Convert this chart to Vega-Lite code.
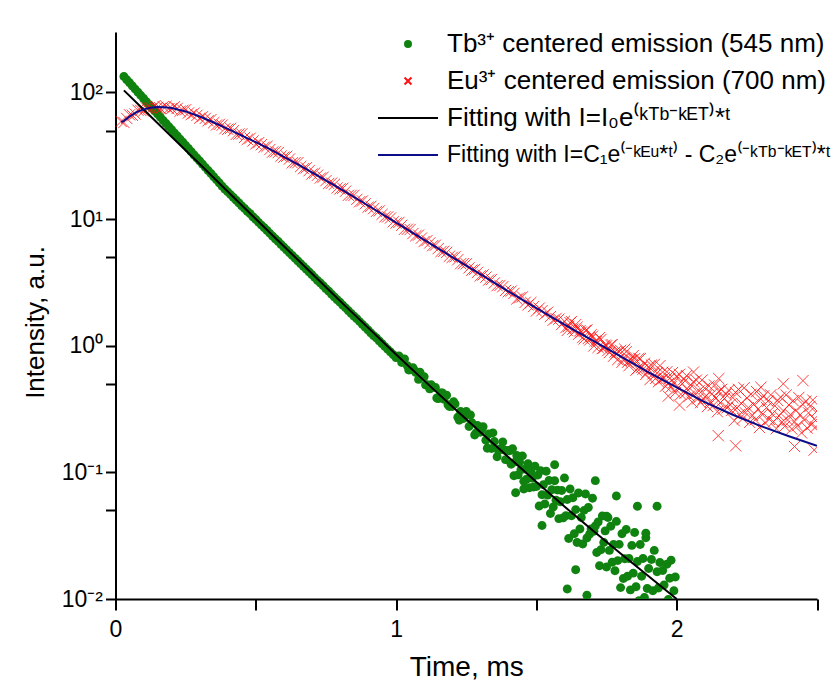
{
"$schema": "https://vega.github.io/schema/vega-lite/v6.json",
"width": 701.5, "height": 567,
"autosize": {"type": "none"},
"padding": {"left": 115.5, "top": 32, "right": 17, "bottom": 87},
"background": "white",
"config": {"font": "Liberation Sans", "view": {"stroke": null}},
"data": {"values": [
{"t":0.03,"v":133.4,"s":"Tb"},{"t":0.04,"v":125.9,"s":"Tb"},{"t":0.05,"v":119.1,"s":"Tb"},{"t":0.06,"v":112.5,"s":"Tb"},{"t":0.07,"v":106.2,"s":"Tb"},{"t":0.08,"v":100.2,"s":"Tb"},{"t":0.09,"v":94.8,"s":"Tb"},{"t":0.10,"v":89.5,"s":"Tb"},{"t":0.11,"v":84.5,"s":"Tb"},{"t":0.12,"v":80.0,"s":"Tb"},{"t":0.13,"v":75.5,"s":"Tb"},{"t":0.14,"v":71.3,"s":"Tb"},{"t":0.15,"v":67.5,"s":"Tb"},{"t":0.16,"v":63.7,"s":"Tb"},{"t":0.17,"v":60.1,"s":"Tb"},{"t":0.18,"v":56.8,"s":"Tb"},{"t":0.19,"v":53.7,"s":"Tb"},{"t":0.20,"v":50.7,"s":"Tb"},{"t":0.21,"v":47.9,"s":"Tb"},{"t":0.22,"v":45.3,"s":"Tb"},{"t":0.23,"v":42.8,"s":"Tb"},{"t":0.24,"v":40.4,"s":"Tb"},{"t":0.25,"v":38.2,"s":"Tb"},{"t":0.26,"v":36.1,"s":"Tb"},{"t":0.27,"v":34.0,"s":"Tb"},{"t":0.28,"v":32.1,"s":"Tb"},{"t":0.29,"v":30.4,"s":"Tb"},{"t":0.30,"v":28.7,"s":"Tb"},{"t":0.31,"v":27.1,"s":"Tb"},{"t":0.32,"v":25.6,"s":"Tb"},{"t":0.33,"v":24.2,"s":"Tb"},{"t":0.34,"v":22.9,"s":"Tb"},{"t":0.35,"v":21.6,"s":"Tb"},{"t":0.36,"v":20.4,"s":"Tb"},{"t":0.37,"v":19.3,"s":"Tb"},{"t":0.38,"v":18.2,"s":"Tb"},{"t":0.39,"v":17.2,"s":"Tb"},{"t":0.40,"v":16.4,"s":"Tb"},{"t":0.41,"v":15.6,"s":"Tb"},{"t":0.42,"v":14.8,"s":"Tb"},{"t":0.43,"v":14.1,"s":"Tb"},{"t":0.44,"v":13.4,"s":"Tb"},{"t":0.45,"v":12.7,"s":"Tb"},{"t":0.46,"v":12.1,"s":"Tb"},{"t":0.47,"v":11.5,"s":"Tb"},{"t":0.48,"v":11.0,"s":"Tb"},{"t":0.49,"v":10.4,"s":"Tb"},{"t":0.50,"v":9.91,"s":"Tb"},{"t":0.51,"v":9.42,"s":"Tb"},{"t":0.52,"v":8.96,"s":"Tb"},{"t":0.53,"v":8.53,"s":"Tb"},{"t":0.54,"v":8.11,"s":"Tb"},{"t":0.55,"v":7.71,"s":"Tb"},{"t":0.56,"v":7.33,"s":"Tb"},{"t":0.57,"v":6.97,"s":"Tb"},{"t":0.58,"v":6.64,"s":"Tb"},{"t":0.59,"v":6.31,"s":"Tb"},{"t":0.60,"v":6.00,"s":"Tb"},{"t":0.61,"v":5.70,"s":"Tb"},{"t":0.62,"v":5.42,"s":"Tb"},{"t":0.63,"v":5.16,"s":"Tb"},{"t":0.64,"v":4.91,"s":"Tb"},{"t":0.65,"v":4.67,"s":"Tb"},{"t":0.66,"v":4.44,"s":"Tb"},{"t":0.67,"v":4.22,"s":"Tb"},{"t":0.68,"v":4.02,"s":"Tb"},{"t":0.69,"v":3.82,"s":"Tb"},{"t":0.70,"v":3.63,"s":"Tb"},{"t":0.71,"v":3.45,"s":"Tb"},{"t":0.72,"v":3.28,"s":"Tb"},{"t":0.73,"v":3.13,"s":"Tb"},{"t":0.74,"v":2.97,"s":"Tb"},{"t":0.75,"v":2.82,"s":"Tb"},{"t":0.76,"v":2.69,"s":"Tb"},{"t":0.77,"v":2.55,"s":"Tb"},{"t":0.78,"v":2.43,"s":"Tb"},{"t":0.79,"v":2.31,"s":"Tb"},{"t":0.80,"v":2.20,"s":"Tb"},{"t":0.81,"v":2.09,"s":"Tb"},{"t":0.82,"v":1.99,"s":"Tb"},{"t":0.83,"v":1.89,"s":"Tb"},{"t":0.84,"v":1.80,"s":"Tb"},{"t":0.85,"v":1.71,"s":"Tb"},{"t":0.86,"v":1.63,"s":"Tb"},{"t":0.87,"v":1.55,"s":"Tb"},{"t":0.88,"v":1.47,"s":"Tb"},{"t":0.89,"v":1.40,"s":"Tb"},{"t":0.90,"v":1.33,"s":"Tb"},{"t":0.91,"v":1.26,"s":"Tb"},{"t":0.92,"v":1.20,"s":"Tb"},{"t":0.93,"v":1.15,"s":"Tb"},{"t":0.94,"v":1.09,"s":"Tb"},{"t":0.95,"v":1.035,"s":"Tb"},{"t":0.96,"v":0.984,"s":"Tb"},{"t":0.97,"v":0.936,"s":"Tb"},{"t":0.98,"v":0.891,"s":"Tb"},{"t":0.99,"v":0.847,"s":"Tb"},{"t":1.00,"v":0.805,"s":"Tb"},
{"t":1.005,"v":0.809,"s":"Tb"},{"t":1.01,"v":0.828,"s":"Tb"},{"t":1.02,"v":0.738,"s":"Tb"},{"t":1.025,"v":0.783,"s":"Tb"},{"t":1.03,"v":0.785,"s":"Tb"},{"t":1.04,"v":0.695,"s":"Tb"},{"t":1.045,"v":0.644,"s":"Tb"},{"t":1.05,"v":0.645,"s":"Tb"},{"t":1.06,"v":0.671,"s":"Tb"},{"t":1.065,"v":0.640,"s":"Tb"},{"t":1.07,"v":0.615,"s":"Tb"},{"t":1.08,"v":0.542,"s":"Tb"},{"t":1.085,"v":0.618,"s":"Tb"},{"t":1.09,"v":0.574,"s":"Tb"},{"t":1.10,"v":0.570,"s":"Tb"},{"t":1.105,"v":0.490,"s":"Tb"},{"t":1.11,"v":0.492,"s":"Tb"},{"t":1.12,"v":0.456,"s":"Tb"},{"t":1.125,"v":0.491,"s":"Tb"},{"t":1.13,"v":0.469,"s":"Tb"},{"t":1.14,"v":0.468,"s":"Tb"},{"t":1.145,"v":0.386,"s":"Tb"},{"t":1.15,"v":0.382,"s":"Tb"},{"t":1.16,"v":0.424,"s":"Tb"},{"t":1.165,"v":0.423,"s":"Tb"},{"t":1.17,"v":0.377,"s":"Tb"},{"t":1.18,"v":0.406,"s":"Tb"},{"t":1.185,"v":0.342,"s":"Tb"},{"t":1.19,"v":0.331,"s":"Tb"},{"t":1.20,"v":0.331,"s":"Tb"},{"t":1.205,"v":0.361,"s":"Tb"},{"t":1.21,"v":0.346,"s":"Tb"},{"t":1.22,"v":0.272,"s":"Tb"},{"t":1.225,"v":0.258,"s":"Tb"},{"t":1.23,"v":0.303,"s":"Tb"},{"t":1.24,"v":0.266,"s":"Tb"},{"t":1.245,"v":0.278,"s":"Tb"},{"t":1.25,"v":0.302,"s":"Tb"},{"t":1.26,"v":0.230,"s":"Tb"},{"t":1.265,"v":0.284,"s":"Tb"},{"t":1.27,"v":0.246,"s":"Tb"},{"t":1.28,"v":0.197,"s":"Tb"},{"t":1.285,"v":0.205,"s":"Tb"},{"t":1.29,"v":0.235,"s":"Tb"},{"t":1.30,"v":0.207,"s":"Tb"},{"t":1.305,"v":0.220,"s":"Tb"},{"t":1.31,"v":0.229,"s":"Tb"},{"t":1.32,"v":0.179,"s":"Tb"},{"t":1.325,"v":0.155,"s":"Tb"},{"t":1.33,"v":0.201,"s":"Tb"},{"t":1.34,"v":0.154,"s":"Tb"},{"t":1.345,"v":0.205,"s":"Tb"},{"t":1.35,"v":0.175,"s":"Tb"},{"t":1.36,"v":0.133,"s":"Tb"},{"t":1.365,"v":0.149,"s":"Tb"},{"t":1.37,"v":0.153,"s":"Tb"},{"t":1.38,"v":0.174,"s":"Tb"},{"t":1.385,"v":0.150,"s":"Tb"},{"t":1.39,"v":0.126,"s":"Tb"},{"t":1.40,"v":0.149,"s":"Tb"},
{"t":1.405,"v":0.148,"s":"Tb"},{"t":1.41,"v":0.116,"s":"Tb"},{"t":1.415,"v":0.154,"s":"Tb"},{"t":1.42,"v":0.094,"s":"Tb"},{"t":1.425,"v":0.121,"s":"Tb"},{"t":1.43,"v":0.136,"s":"Tb"},{"t":1.435,"v":0.0955,"s":"Tb"},{"t":1.44,"v":0.120,"s":"Tb"},{"t":1.445,"v":0.105,"s":"Tb"},{"t":1.45,"v":0.135,"s":"Tb"},{"t":1.455,"v":0.0849,"s":"Tb"},{"t":1.46,"v":0.106,"s":"Tb"},{"t":1.465,"v":0.0881,"s":"Tb"},{"t":1.47,"v":0.117,"s":"Tb"},{"t":1.475,"v":0.0755,"s":"Tb"},{"t":1.48,"v":0.103,"s":"Tb"},{"t":1.485,"v":0.090,"s":"Tb"},{"t":1.49,"v":0.0766,"s":"Tb"},{"t":1.495,"v":0.112,"s":"Tb"},{"t":1.50,"v":0.0774,"s":"Tb"},{"t":1.505,"v":0.0951,"s":"Tb"},{"t":1.51,"v":0.0543,"s":"Tb"},{"t":1.515,"v":0.103,"s":"Tb"},{"t":1.52,"v":0.0665,"s":"Tb"},{"t":1.525,"v":0.080,"s":"Tb"},{"t":1.53,"v":0.0562,"s":"Tb"},{"t":1.535,"v":0.102,"s":"Tb"},{"t":1.54,"v":0.0661,"s":"Tb"},{"t":1.545,"v":0.0863,"s":"Tb"},{"t":1.55,"v":0.0473,"s":"Tb"},{"t":1.555,"v":0.0729,"s":"Tb"},{"t":1.56,"v":0.0533,"s":"Tb"},{"t":1.565,"v":0.0857,"s":"Tb"},{"t":1.57,"v":0.0602,"s":"Tb"},{"t":1.575,"v":0.0724,"s":"Tb"},{"t":1.58,"v":0.0431,"s":"Tb"},{"t":1.585,"v":0.0586,"s":"Tb"},{"t":1.59,"v":0.072,"s":"Tb"},{"t":1.595,"v":0.0437,"s":"Tb"},{"t":1.60,"v":0.0902,"s":"Tb"},{"t":1.605,"v":0.0455,"s":"Tb"},{"t":1.61,"v":0.0611,"s":"Tb"},{"t":1.615,"v":0.030,"s":"Tb"},{"t":1.62,"v":0.0738,"s":"Tb"},{"t":1.625,"v":0.0455,"s":"Tb"},{"t":1.63,"v":0.063,"s":"Tb"},{"t":1.635,"v":0.0327,"s":"Tb"},{"t":1.64,"v":0.0508,"s":"Tb"},{"t":1.645,"v":0.0279,"s":"Tb"},{"t":1.65,"v":0.0687,"s":"Tb"},{"t":1.655,"v":0.0357,"s":"Tb"},{"t":1.66,"v":0.044,"s":"Tb"},{"t":1.665,"v":0.0272,"s":"Tb"},{"t":1.67,"v":0.0501,"s":"Tb"},{"t":1.675,"v":0.0674,"s":"Tb"},{"t":1.68,"v":0.0303,"s":"Tb"},{"t":1.685,"v":0.0528,"s":"Tb"},{"t":1.69,"v":0.0326,"s":"Tb"},{"t":1.695,"v":0.0358,"s":"Tb"},{"t":1.70,"v":0.0624,"s":"Tb"},{"t":1.705,"v":0.0343,"s":"Tb"},{"t":1.71,"v":0.0377,"s":"Tb"},{"t":1.715,"v":0.0233,"s":"Tb"},{"t":1.72,"v":0.0406,"s":"Tb"},{"t":1.725,"v":0.0183,"s":"Tb"},{"t":1.73,"v":0.0245,"s":"Tb"},{"t":1.735,"v":0.0452,"s":"Tb"},{"t":1.74,"v":0.0279,"s":"Tb"},{"t":1.745,"v":0.0345,"s":"Tb"},{"t":1.75,"v":0.0179,"s":"Tb"},{"t":1.755,"v":0.044,"s":"Tb"},{"t":1.76,"v":0.0242,"s":"Tb"},{"t":1.765,"v":0.0376,"s":"Tb"},{"t":1.77,"v":0.0195,"s":"Tb"},{"t":1.775,"v":0.027,"s":"Tb"},{"t":1.78,"v":0.0167,"s":"Tb"},{"t":1.785,"v":0.041,"s":"Tb"},{"t":1.79,"v":0.0201,"s":"Tb"},{"t":1.795,"v":0.027,"s":"Tb"},{"t":1.80,"v":0.0123,"s":"Tb"},{"t":1.805,"v":0.0328,"s":"Tb"},{"t":1.81,"v":0.0145,"s":"Tb"},{"t":1.815,"v":0.0208,"s":"Tb"},{"t":1.82,"v":0.0354,"s":"Tb"},{"t":1.825,"v":0.0151,"s":"Tb"},{"t":1.83,"v":0.0209,"s":"Tb"},{"t":1.835,"v":0.0118,"s":"Tb"},{"t":1.84,"v":0.0265,"s":"Tb"},{"t":1.845,"v":0.016,"s":"Tb"},{"t":1.85,"v":0.0335,"s":"Tb"},{"t":1.855,"v":0.0125,"s":"Tb"},{"t":1.86,"v":0.0198,"s":"Tb"},{"t":1.865,"v":0.0097,"s":"Tb"},{"t":1.87,"v":0.0269,"s":"Tb"},{"t":1.875,"v":0.0151,"s":"Tb"},{"t":1.88,"v":0.0209,"s":"Tb"},{"t":1.885,"v":0.0103,"s":"Tb"},{"t":1.89,"v":0.0304,"s":"Tb"},{"t":1.895,"v":0.0121,"s":"Tb"},{"t":1.90,"v":0.0174,"s":"Tb"},{"t":1.905,"v":0.0077,"s":"Tb"},{"t":1.91,"v":0.0205,"s":"Tb"},{"t":1.915,"v":0.0116,"s":"Tb"},{"t":1.92,"v":0.0242,"s":"Tb"},{"t":1.925,"v":0.0084,"s":"Tb"},{"t":1.93,"v":0.0164,"s":"Tb"},{"t":1.935,"v":0.0122,"s":"Tb"},{"t":1.94,"v":0.0194,"s":"Tb"},{"t":1.945,"v":0.0089,"s":"Tb"},{"t":1.95,"v":0.0168,"s":"Tb"},{"t":1.955,"v":0.0129,"s":"Tb"},{"t":1.96,"v":0.0068,"s":"Tb"},{"t":1.965,"v":0.0188,"s":"Tb"},{"t":1.97,"v":0.0099,"s":"Tb"},{"t":1.975,"v":0.0146,"s":"Tb"},{"t":1.98,"v":0.0202,"s":"Tb"},{"t":1.985,"v":0.007,"s":"Tb"},{"t":1.99,"v":0.0116,"s":"Tb"},{"t":1.995,"v":0.0149,"s":"Tb"},{"t":2.00,"v":0.0076,"s":"Tb"},
{"t":1.426,"v":0.069,"s":"Tb"},{"t":1.455,"v":0.074,"s":"Tb"},{"t":1.565,"v":0.115,"s":"Tb"},{"t":1.71,"v":0.086,"s":"Tb"},{"t":1.785,"v":0.065,"s":"Tb"},{"t":1.86,"v":0.054,"s":"Tb"},{"t":1.93,"v":0.054,"s":"Tb"},{"t":1.89,"v":0.033,"s":"Tb"},{"t":1.61,"v":0.012,"s":"Tb"},{"t":1.68,"v":0.0107,"s":"Tb"},{"t":1.64,"v":0.017,"s":"Tb"},{"t":1.52,"v":0.038,"s":"Tb"},{"t":1.75,"v":0.045,"s":"Tb"},
{"t":0.02,"v":59.0,"s":"Eu"},{"t":0.03,"v":57.9,"s":"Eu"},{"t":0.04,"v":62.3,"s":"Eu"},{"t":0.05,"v":66.6,"s":"Eu"},{"t":0.06,"v":66.0,"s":"Eu"},{"t":0.07,"v":67.5,"s":"Eu"},{"t":0.08,"v":72.4,"s":"Eu"},{"t":0.09,"v":72.1,"s":"Eu"},{"t":0.10,"v":71.2,"s":"Eu"},{"t":0.11,"v":75.6,"s":"Eu"},{"t":0.12,"v":75.7,"s":"Eu"},{"t":0.13,"v":74.8,"s":"Eu"},{"t":0.14,"v":78.3,"s":"Eu"},{"t":0.15,"v":76.3,"s":"Eu"},{"t":0.16,"v":74.7,"s":"Eu"},{"t":0.17,"v":77.2,"s":"Eu"},{"t":0.18,"v":77.6,"s":"Eu"},{"t":0.19,"v":74.4,"s":"Eu"},{"t":0.20,"v":74.6,"s":"Eu"},{"t":0.21,"v":77.1,"s":"Eu"},{"t":0.22,"v":74.8,"s":"Eu"},{"t":0.23,"v":71.0,"s":"Eu"},{"t":0.24,"v":72.2,"s":"Eu"},{"t":0.25,"v":73.0,"s":"Eu"},{"t":0.26,"v":68.8,"s":"Eu"},{"t":0.27,"v":66.8,"s":"Eu"},{"t":0.28,"v":68.6,"s":"Eu"},{"t":0.29,"v":65.8,"s":"Eu"},{"t":0.30,"v":62.6,"s":"Eu"},{"t":0.31,"v":64.3,"s":"Eu"},{"t":0.32,"v":62.4,"s":"Eu"},{"t":0.33,"v":59.7,"s":"Eu"},{"t":0.34,"v":61.0,"s":"Eu"},{"t":0.35,"v":57.7,"s":"Eu"},{"t":0.36,"v":55.3,"s":"Eu"},{"t":0.37,"v":55.9,"s":"Eu"},{"t":0.38,"v":55.2,"s":"Eu"},{"t":0.39,"v":51.8,"s":"Eu"},{"t":0.40,"v":51.2,"s":"Eu"},{"t":0.41,"v":52.0,"s":"Eu"},{"t":0.42,"v":49.8,"s":"Eu"},{"t":0.43,"v":46.6,"s":"Eu"},{"t":0.44,"v":46.9,"s":"Eu"},{"t":0.45,"v":47.0,"s":"Eu"},{"t":0.46,"v":44.1,"s":"Eu"},{"t":0.47,"v":42.6,"s":"Eu"},{"t":0.48,"v":43.5,"s":"Eu"},{"t":0.49,"v":41.4,"s":"Eu"},{"t":0.50,"v":39.2,"s":"Eu"},{"t":0.51,"v":40.1,"s":"Eu"},{"t":0.52,"v":38.7,"s":"Eu"},{"t":0.53,"v":37.0,"s":"Eu"},{"t":0.54,"v":37.5,"s":"Eu"},{"t":0.55,"v":35.4,"s":"Eu"},{"t":0.56,"v":33.8,"s":"Eu"},{"t":0.57,"v":34.0,"s":"Eu"},{"t":0.58,"v":33.5,"s":"Eu"},{"t":0.59,"v":31.4,"s":"Eu"},{"t":0.60,"v":30.8,"s":"Eu"},{"t":0.61,"v":31.3,"s":"Eu"},{"t":0.62,"v":29.8,"s":"Eu"},{"t":0.63,"v":27.8,"s":"Eu"},{"t":0.64,"v":27.9,"s":"Eu"},{"t":0.65,"v":27.9,"s":"Eu"},{"t":0.66,"v":26.0,"s":"Eu"},{"t":0.67,"v":25.0,"s":"Eu"},{"t":0.68,"v":25.4,"s":"Eu"},{"t":0.69,"v":24.1,"s":"Eu"},{"t":0.70,"v":22.7,"s":"Eu"},{"t":0.71,"v":23.1,"s":"Eu"},{"t":0.72,"v":22.2,"s":"Eu"},{"t":0.73,"v":21.1,"s":"Eu"},{"t":0.74,"v":21.4,"s":"Eu"},{"t":0.75,"v":20.1,"s":"Eu"},{"t":0.76,"v":19.1,"s":"Eu"},{"t":0.77,"v":19.2,"s":"Eu"},{"t":0.78,"v":18.8,"s":"Eu"},{"t":0.79,"v":17.6,"s":"Eu"},{"t":0.80,"v":17.3,"s":"Eu"},{"t":0.81,"v":17.5,"s":"Eu"},{"t":0.82,"v":16.6,"s":"Eu"},{"t":0.83,"v":15.4,"s":"Eu"},{"t":0.84,"v":15.4,"s":"Eu"},{"t":0.85,"v":15.4,"s":"Eu"},{"t":0.86,"v":14.3,"s":"Eu"},{"t":0.87,"v":13.7,"s":"Eu"},{"t":0.88,"v":13.9,"s":"Eu"},{"t":0.89,"v":13.2,"s":"Eu"},{"t":0.90,"v":12.4,"s":"Eu"},{"t":0.91,"v":12.6,"s":"Eu"},{"t":0.92,"v":12.1,"s":"Eu"},{"t":0.93,"v":11.5,"s":"Eu"},{"t":0.94,"v":11.6,"s":"Eu"},{"t":0.95,"v":10.9,"s":"Eu"},{"t":0.96,"v":10.4,"s":"Eu"},{"t":0.97,"v":10.4,"s":"Eu"},{"t":0.98,"v":10.2,"s":"Eu"},{"t":0.99,"v":9.51,"s":"Eu"},{"t":1.00,"v":9.31,"s":"Eu"},{"t":1.01,"v":9.41,"s":"Eu"},{"t":1.02,"v":8.93,"s":"Eu"},{"t":1.03,"v":8.30,"s":"Eu"},{"t":1.04,"v":8.30,"s":"Eu"},{"t":1.05,"v":8.27,"s":"Eu"},{"t":1.06,"v":7.69,"s":"Eu"},{"t":1.07,"v":7.38,"s":"Eu"},{"t":1.08,"v":7.48,"s":"Eu"},{"t":1.09,"v":7.07,"s":"Eu"},{"t":1.10,"v":6.65,"s":"Eu"},{"t":1.11,"v":6.76,"s":"Eu"},{"t":1.12,"v":6.48,"s":"Eu"},{"t":1.13,"v":6.16,"s":"Eu"},{"t":1.14,"v":6.22,"s":"Eu"},{"t":1.15,"v":5.84,"s":"Eu"},{"t":1.16,"v":5.54,"s":"Eu"},{"t":1.17,"v":5.56,"s":"Eu"},{"t":1.18,"v":5.45,"s":"Eu"},{"t":1.19,"v":5.08,"s":"Eu"},{"t":1.20,"v":4.98,"s":"Eu"},{"t":1.21,"v":5.03,"s":"Eu"},{"t":1.22,"v":4.78,"s":"Eu"},{"t":1.23,"v":4.44,"s":"Eu"},{"t":1.24,"v":4.44,"s":"Eu"},{"t":1.25,"v":4.43,"s":"Eu"},{"t":1.26,"v":4.12,"s":"Eu"},{"t":1.27,"v":3.95,"s":"Eu"},{"t":1.28,"v":4.00,"s":"Eu"},{"t":1.29,"v":3.79,"s":"Eu"},{"t":1.30,"v":3.56,"s":"Eu"},{"t":1.31,"v":3.62,"s":"Eu"},{"t":1.32,"v":3.48,"s":"Eu"},{"t":1.33,"v":3.30,"s":"Eu"},{"t":1.34,"v":3.33,"s":"Eu"},{"t":1.35,"v":3.13,"s":"Eu"},{"t":1.36,"v":2.98,"s":"Eu"},{"t":1.37,"v":2.99,"s":"Eu"},{"t":1.38,"v":2.92,"s":"Eu"},{"t":1.39,"v":2.73,"s":"Eu"},{"t":1.40,"v":2.67,"s":"Eu"},{"t":1.41,"v":2.70,"s":"Eu"},{"t":1.42,"v":2.59,"s":"Eu"},{"t":1.43,"v":2.34,"s":"Eu"},{"t":1.44,"v":2.39,"s":"Eu"},{"t":1.45,"v":2.43,"s":"Eu"},{"t":1.46,"v":2.20,"s":"Eu"},{"t":1.47,"v":2.10,"s":"Eu"},{"t":1.48,"v":2.19,"s":"Eu"},{"t":1.49,"v":2.04,"s":"Eu"},{"t":1.50,"v":1.88,"s":"Eu"},{"t":1.51,"v":1.98,"s":"Eu"},{"t":1.52,"v":1.89,"s":"Eu"},{"t":1.53,"v":1.77,"s":"Eu"},{"t":1.54,"v":1.84,"s":"Eu"},{"t":1.55,"v":1.70,"s":"Eu"},{"t":1.56,"v":1.59,"s":"Eu"},{"t":1.57,"v":1.64,"s":"Eu"},{"t":1.58,"v":1.62,"s":"Eu"},{"t":1.59,"v":1.47,"s":"Eu"},
{"t":1.60,"v":1.56,"s":"Eu"},{"t":1.605,"v":1.39,"s":"Eu"},{"t":1.61,"v":1.32,"s":"Eu"},{"t":1.615,"v":1.42,"s":"Eu"},{"t":1.62,"v":1.52,"s":"Eu"},{"t":1.625,"v":1.55,"s":"Eu"},{"t":1.63,"v":1.35,"s":"Eu"},{"t":1.635,"v":1.29,"s":"Eu"},{"t":1.64,"v":1.47,"s":"Eu"},{"t":1.645,"v":1.40,"s":"Eu"},{"t":1.65,"v":1.23,"s":"Eu"},{"t":1.655,"v":1.31,"s":"Eu"},{"t":1.66,"v":1.28,"s":"Eu"},{"t":1.665,"v":1.16,"s":"Eu"},{"t":1.67,"v":1.13,"s":"Eu"},{"t":1.675,"v":1.32,"s":"Eu"},{"t":1.68,"v":1.33,"s":"Eu"},{"t":1.685,"v":1.14,"s":"Eu"},{"t":1.69,"v":1.11,"s":"Eu"},{"t":1.695,"v":1.22,"s":"Eu"},{"t":1.70,"v":1.19,"s":"Eu"},{"t":1.705,"v":0.996,"s":"Eu"},{"t":1.71,"v":1.09,"s":"Eu"},{"t":1.715,"v":1.08,"s":"Eu"},{"t":1.72,"v":0.970,"s":"Eu"},{"t":1.725,"v":1.16,"s":"Eu"},{"t":1.73,"v":1.12,"s":"Eu"},{"t":1.735,"v":0.950,"s":"Eu"},{"t":1.74,"v":0.958,"s":"Eu"},{"t":1.745,"v":1.01,"s":"Eu"},{"t":1.75,"v":0.997,"s":"Eu"},{"t":1.755,"v":0.917,"s":"Eu"},{"t":1.76,"v":0.883,"s":"Eu"},{"t":1.765,"v":1.01,"s":"Eu"},{"t":1.77,"v":1.02,"s":"Eu"},{"t":1.775,"v":0.826,"s":"Eu"},{"t":1.78,"v":0.892,"s":"Eu"},{"t":1.785,"v":0.874,"s":"Eu"},{"t":1.79,"v":0.777,"s":"Eu"},{"t":1.795,"v":0.899,"s":"Eu"},{"t":1.80,"v":0.919,"s":"Eu"},{"t":1.805,"v":0.741,"s":"Eu"},{"t":1.81,"v":0.785,"s":"Eu"},{"t":1.815,"v":0.939,"s":"Eu"},{"t":1.82,"v":0.897,"s":"Eu"},{"t":1.825,"v":0.740,"s":"Eu"},{"t":1.83,"v":0.695,"s":"Eu"},{"t":1.835,"v":0.773,"s":"Eu"},{"t":1.84,"v":0.768,"s":"Eu"},{"t":1.845,"v":0.834,"s":"Eu"},{"t":1.85,"v":0.790,"s":"Eu"},{"t":1.855,"v":0.641,"s":"Eu"},{"t":1.86,"v":0.658,"s":"Eu"},{"t":1.865,"v":0.794,"s":"Eu"},{"t":1.87,"v":0.789,"s":"Eu"},{"t":1.875,"v":0.673,"s":"Eu"},{"t":1.88,"v":0.652,"s":"Eu"},{"t":1.885,"v":0.726,"s":"Eu"},{"t":1.89,"v":0.594,"s":"Eu"},{"t":1.895,"v":0.620,"s":"Eu"},
{"t":1.900,"v":0.682,"s":"Eu"},{"t":1.905,"v":0.540,"s":"Eu"},{"t":1.910,"v":0.703,"s":"Eu"},{"t":1.915,"v":0.599,"s":"Eu"},{"t":1.920,"v":0.711,"s":"Eu"},{"t":1.925,"v":0.553,"s":"Eu"},{"t":1.930,"v":0.610,"s":"Eu"},{"t":1.935,"v":0.519,"s":"Eu"},{"t":1.940,"v":0.695,"s":"Eu"},{"t":1.945,"v":0.540,"s":"Eu"},{"t":1.950,"v":0.618,"s":"Eu"},{"t":1.955,"v":0.557,"s":"Eu"},{"t":1.960,"v":0.479,"s":"Eu"},{"t":1.965,"v":0.623,"s":"Eu"},{"t":1.970,"v":0.502,"s":"Eu"},{"t":1.975,"v":0.554,"s":"Eu"},{"t":1.980,"v":0.472,"s":"Eu"},{"t":1.985,"v":0.614,"s":"Eu"},{"t":1.990,"v":0.514,"s":"Eu"},{"t":1.995,"v":0.426,"s":"Eu"},{"t":2.000,"v":0.576,"s":"Eu"},{"t":2.005,"v":0.466,"s":"Eu"},{"t":2.010,"v":0.594,"s":"Eu"},{"t":2.015,"v":0.413,"s":"Eu"},{"t":2.020,"v":0.501,"s":"Eu"},{"t":2.025,"v":0.542,"s":"Eu"},{"t":2.030,"v":0.422,"s":"Eu"},{"t":2.035,"v":0.580,"s":"Eu"},{"t":2.040,"v":0.446,"s":"Eu"},{"t":2.045,"v":0.399,"s":"Eu"},{"t":2.050,"v":0.490,"s":"Eu"},{"t":2.055,"v":0.358,"s":"Eu"},{"t":2.060,"v":0.519,"s":"Eu"},{"t":2.065,"v":0.420,"s":"Eu"},{"t":2.070,"v":0.535,"s":"Eu"},{"t":2.075,"v":0.381,"s":"Eu"},{"t":2.080,"v":0.440,"s":"Eu"},{"t":2.085,"v":0.355,"s":"Eu"},{"t":2.090,"v":0.535,"s":"Eu"},{"t":2.095,"v":0.381,"s":"Eu"},{"t":2.100,"v":0.462,"s":"Eu"},{"t":2.105,"v":0.404,"s":"Eu"},{"t":2.110,"v":0.331,"s":"Eu"},{"t":2.115,"v":0.480,"s":"Eu"},{"t":2.120,"v":0.361,"s":"Eu"},{"t":2.125,"v":0.416,"s":"Eu"},{"t":2.130,"v":0.337,"s":"Eu"},{"t":2.135,"v":0.489,"s":"Eu"},{"t":2.140,"v":0.386,"s":"Eu"},{"t":2.145,"v":0.301,"s":"Eu"},{"t":2.150,"v":0.437,"s":"Eu"},{"t":2.155,"v":0.354,"s":"Eu"},{"t":2.160,"v":0.452,"s":"Eu"},{"t":2.165,"v":0.315,"s":"Eu"},{"t":2.170,"v":0.382,"s":"Eu"},{"t":2.175,"v":0.414,"s":"Eu"},{"t":2.180,"v":0.323,"s":"Eu"},{"t":2.185,"v":0.446,"s":"Eu"},{"t":2.190,"v":0.343,"s":"Eu"},{"t":2.195,"v":0.308,"s":"Eu"},{"t":2.200,"v":0.389,"s":"Eu"},{"t":2.205,"v":0.256,"s":"Eu"},{"t":2.210,"v":0.427,"s":"Eu"},{"t":2.215,"v":0.322,"s":"Eu"},{"t":2.220,"v":0.452,"s":"Eu"},{"t":2.225,"v":0.287,"s":"Eu"},{"t":2.230,"v":0.351,"s":"Eu"},{"t":2.235,"v":0.265,"s":"Eu"},{"t":2.240,"v":0.465,"s":"Eu"},{"t":2.245,"v":0.295,"s":"Eu"},{"t":2.250,"v":0.387,"s":"Eu"},{"t":2.255,"v":0.324,"s":"Eu"},{"t":2.260,"v":0.248,"s":"Eu"},{"t":2.265,"v":0.414,"s":"Eu"},{"t":2.270,"v":0.282,"s":"Eu"},{"t":2.275,"v":0.345,"s":"Eu"},{"t":2.280,"v":0.260,"s":"Eu"},{"t":2.285,"v":0.434,"s":"Eu"},{"t":2.290,"v":0.316,"s":"Eu"},{"t":2.295,"v":0.226,"s":"Eu"},{"t":2.300,"v":0.378,"s":"Eu"},{"t":2.305,"v":0.286,"s":"Eu"},{"t":2.310,"v":0.402,"s":"Eu"},{"t":2.315,"v":0.247,"s":"Eu"},{"t":2.320,"v":0.325,"s":"Eu"},{"t":2.325,"v":0.365,"s":"Eu"},{"t":2.330,"v":0.262,"s":"Eu"},{"t":2.335,"v":0.409,"s":"Eu"},{"t":2.340,"v":0.289,"s":"Eu"},{"t":2.345,"v":0.251,"s":"Eu"},{"t":2.350,"v":0.335,"s":"Eu"},{"t":2.355,"v":0.221,"s":"Eu"},{"t":2.360,"v":0.369,"s":"Eu"},{"t":2.365,"v":0.279,"s":"Eu"},{"t":2.370,"v":0.393,"s":"Eu"},{"t":2.375,"v":0.250,"s":"Eu"},{"t":2.380,"v":0.306,"s":"Eu"},{"t":2.385,"v":0.231,"s":"Eu"},{"t":2.390,"v":0.408,"s":"Eu"},{"t":2.395,"v":0.259,"s":"Eu"},{"t":2.400,"v":0.341,"s":"Eu"},{"t":2.405,"v":0.286,"s":"Eu"},{"t":2.410,"v":0.220,"s":"Eu"},{"t":2.415,"v":0.368,"s":"Eu"},{"t":2.420,"v":0.251,"s":"Eu"},{"t":2.425,"v":0.308,"s":"Eu"},{"t":2.430,"v":0.233,"s":"Eu"},{"t":2.435,"v":0.390,"s":"Eu"},{"t":2.440,"v":0.285,"s":"Eu"},{"t":2.445,"v":0.205,"s":"Eu"},{"t":2.450,"v":0.343,"s":"Eu"},{"t":2.455,"v":0.259,"s":"Eu"},{"t":2.460,"v":0.365,"s":"Eu"},{"t":2.465,"v":0.224,"s":"Eu"},{"t":2.470,"v":0.295,"s":"Eu"},{"t":2.475,"v":0.332,"s":"Eu"},{"t":2.480,"v":0.238,"s":"Eu"},{"t":2.485,"v":0.372,"s":"Eu"},{"t":2.490,"v":0.263,"s":"Eu"},{"t":2.495,"v":0.228,"s":"Eu"},{"t":2.500,"v":0.305,"s":"Eu"},
{"t":2.148,"v":0.195,"s":"Eu"},{"t":2.21,"v":0.162,"s":"Eu"},{"t":2.01,"v":0.34,"s":"Eu"},{"t":2.45,"v":0.53,"s":"Eu"},{"t":2.38,"v":0.50,"s":"Eu"},{"t":2.49,"v":0.15,"s":"Eu"},{"t":2.42,"v":0.16,"s":"Eu"},{"t":2.30,"v":0.47,"s":"Eu"},{"t":2.06,"v":0.62,"s":"Eu"},{"t":2.15,"v":0.55,"s":"Eu"},{"t":1.97,"v":0.40,"s":"Eu"},
{"t":0.03,"v":103.8,"s":"fit1"},{"t":0.1,"v":73.3,"s":"fit1"},{"t":0.2,"v":44.7,"s":"fit1"},{"t":0.3,"v":27.2,"s":"fit1"},{"t":0.4,"v":16.5,"s":"fit1"},{"t":0.5,"v":10.0,"s":"fit1"},{"t":0.6,"v":6.10,"s":"fit1"},{"t":0.7,"v":3.72,"s":"fit1"},{"t":0.8,"v":2.26,"s":"fit1"},{"t":0.9,"v":1.39,"s":"fit1"},{"t":1.0,"v":0.851,"s":"fit1"},{"t":1.1,"v":0.530,"s":"fit1"},{"t":1.2,"v":0.331,"s":"fit1"},{"t":1.3,"v":0.208,"s":"fit1"},{"t":1.4,"v":0.132,"s":"fit1"},{"t":1.5,"v":0.0839,"s":"fit1"},{"t":1.6,"v":0.0537,"s":"fit1"},{"t":1.7,"v":0.0349,"s":"fit1"},{"t":1.8,"v":0.0229,"s":"fit1"},{"t":1.9,"v":0.0151,"s":"fit1"},{"t":2.0,"v":0.0100,"s":"fit1"},
{"t":0.02,"v":58.2,"s":"fit2"},{"t":0.03,"v":59.6,"s":"fit2"},{"t":0.05,"v":64.6,"s":"fit2"},{"t":0.075,"v":70.0,"s":"fit2"},{"t":0.1,"v":73.5,"s":"fit2"},{"t":0.125,"v":75.7,"s":"fit2"},{"t":0.15,"v":76.6,"s":"fit2"},{"t":0.175,"v":76.4,"s":"fit2"},{"t":0.2,"v":75.2,"s":"fit2"},{"t":0.25,"v":70.8,"s":"fit2"},{"t":0.3,"v":64.6,"s":"fit2"},{"t":0.35,"v":57.9,"s":"fit2"},{"t":0.4,"v":51.5,"s":"fit2"},{"t":0.45,"v":45.6,"s":"fit2"},{"t":0.5,"v":40.5,"s":"fit2"},{"t":0.55,"v":35.6,"s":"fit2"},{"t":0.6,"v":31.0,"s":"fit2"},{"t":0.65,"v":27.0,"s":"fit2"},{"t":0.7,"v":23.4,"s":"fit2"},{"t":0.8,"v":17.4,"s":"fit2"},{"t":0.9,"v":12.8,"s":"fit2"},{"t":1.0,"v":9.38,"s":"fit2"},{"t":1.1,"v":6.85,"s":"fit2"},{"t":1.2,"v":5.01,"s":"fit2"},{"t":1.3,"v":3.67,"s":"fit2"},{"t":1.4,"v":2.69,"s":"fit2"},{"t":1.5,"v":1.98,"s":"fit2"},{"t":1.6,"v":1.47,"s":"fit2"},{"t":1.7,"v":1.10,"s":"fit2"},{"t":1.8,"v":0.822,"s":"fit2"},{"t":1.9,"v":0.617,"s":"fit2"},{"t":2.0,"v":0.468,"s":"fit2"},{"t":2.1,"v":0.359,"s":"fit2"},{"t":2.2,"v":0.285,"s":"fit2"},{"t":2.3,"v":0.232,"s":"fit2"},{"t":2.4,"v":0.193,"s":"fit2"},{"t":2.5,"v":0.162,"s":"fit2"}
]},
"encoding": {
  "x": {"field": "t", "type": "quantitative", "scale": {"domain": [0, 2.5], "nice": false, "zero": false},
    "axis": {"values": [0, 0.5, 1, 1.5, 2, 2.5],
      "labelExpr": "datum.value === 0 ? '0' : datum.value === 1 ? '1' : datum.value === 2 ? '2' : ''",
      "title": "Time, ms", "grid": false, "domainColor": "#000000", "domainWidth": 2, "tickColor": "#000000", "tickWidth": 2, "tickSize": 11,
      "labelFontSize": 23, "labelColor": "#000000", "labelPadding": 8, "labelFlush": false, "labelOverlap": false,
      "titleFontSize": 28, "titleFontWeight": "normal", "titleColor": "#000000", "titlePadding": 12,
      "encode": {"ticks": {"y2": {"condition": {"test": "datum.value === 0.5 || datum.value === 1.5 || datum.value === 2.5", "value": 5}, "value": 11}}}}},
  "y": {"field": "v", "type": "quantitative", "scale": {"type": "log", "domain": [0.01, 300], "nice": false},
    "axis": {"values": [0.01, 0.05, 0.1, 0.5, 1, 5, 10, 50, 100],
      "labelExpr": "datum.value === 0.01 ? '10⁻²' : datum.value === 0.1 ? '10⁻¹' : datum.value === 1 ? '10⁰' : datum.value === 10 ? '10¹' : datum.value === 100 ? '10²' : ''",
      "title": "Intensity, a.u.", "grid": false, "domainColor": "#000000", "domainWidth": 2, "tickColor": "#000000", "tickWidth": 2, "tickSize": 10,
      "labelFontSize": 23, "labelColor": "#000000", "labelPadding": 3, "labelOverlap": false,
      "titleFontSize": 26, "titleFontWeight": "normal", "titleColor": "#000000", "titleX": -80, "titleY": 290, "titleBaseline": "middle", "titleAlign": "center", "titleAngle": 270,
      "encode": {"ticks": {"x2": {"condition": {"test": "datum.value === 0.05 || datum.value === 0.5 || datum.value === 5 || datum.value === 50", "value": -5}, "value": -10}}}}},
  "color": {"field": "s", "type": "nominal",
    "scale": {"domain": ["Tb", "Eu", "fit1", "fit2"], "range": ["#0f820f", "#ff1010", "#000000", "#0c0c8a"]},
    "legend": {"title": null, "orient": "none", "legendX": 262.5, "legendY": -4, "padding": 0,
      "symbolSize": 900, "symbolStrokeWidth": 2, "symbolOffset": 14, "labelOffset": 23, "rowPadding": 8,
      "labelFontSize": {"expr": "datum.value === 'fit2' ? 23 : 26"}, "labelColor": "#000000", "labelLimit": 600,
      "labelExpr": "datum.value === 'Tb' ? 'Tb³⁺ centered emission (545 nm)' : datum.value === 'Eu' ? 'Eu³⁺ centered emission (700 nm)' : datum.value === 'fit1' ? 'Fitting with I=I₀e⁽ᵏᵀᵇ⁻ᵏᴱᵀ⁾*ᵗ' : 'Fitting with I=C₁e⁽⁻ᵏᴱᵘ*ᵗ⁾ - C₂e⁽⁻ᵏᵀᵇ⁻ᵏᴱᵀ⁾*ᵗ'"}}
},
"layer": [
  {"transform": [{"filter": "datum.s === 'Tb'"}],
   "mark": {"type": "point", "filled": true, "size": 2000, "opacity": 1, "clip": true},
   "encoding": {"shape": {"field": "s", "type": "nominal",
      "scale": {"domain": ["Tb", "Eu", "fit1", "fit2"], "range": ["M-0.2,0A0.2,0.2,0,1,0,0.2,0A0.2,0.2,0,1,0,-0.2,0Z", "M-0.23,-0.23L0.23,0.23M-0.23,0.23L0.23,-0.23", "M-2,0L2,0", "M-2,0L2,0"]},
      "legend": {"title": null, "orient": "none", "legendX": 262.5, "legendY": -4, "padding": 0,
      "symbolSize": 900, "symbolStrokeWidth": 2, "symbolOffset": 14, "labelOffset": 23, "rowPadding": 8,
      "labelFontSize": {"expr": "datum.value === 'fit2' ? 23 : 26"}, "labelColor": "#000000", "labelLimit": 600,
      "labelExpr": "datum.value === 'Tb' ? 'Tb³⁺ centered emission (545 nm)' : datum.value === 'Eu' ? 'Eu³⁺ centered emission (700 nm)' : datum.value === 'fit1' ? 'Fitting with I=I₀e⁽ᵏᵀᵇ⁻ᵏᴱᵀ⁾*ᵗ' : 'Fitting with I=C₁e⁽⁻ᵏᴱᵘ*ᵗ⁾ - C₂e⁽⁻ᵏᵀᵇ⁻ᵏᴱᵀ⁾*ᵗ'"}}}},
  {"transform": [{"filter": "datum.s === 'Eu'"}],
   "mark": {"type": "point", "filled": false, "size": 2400, "opacity": 0.8, "strokeWidth": 1, "clip": true},
   "encoding": {"shape": {"field": "s", "type": "nominal",
      "scale": {"domain": ["Tb", "Eu", "fit1", "fit2"], "range": ["M-0.2,0A0.2,0.2,0,1,0,0.2,0A0.2,0.2,0,1,0,-0.2,0Z", "M-0.23,-0.23L0.23,0.23M-0.23,0.23L0.23,-0.23", "M-2,0L2,0", "M-2,0L2,0"]},
      "legend": {"title": null, "orient": "none", "legendX": 262.5, "legendY": -4, "padding": 0,
      "symbolSize": 900, "symbolStrokeWidth": 2, "symbolOffset": 14, "labelOffset": 23, "rowPadding": 8,
      "labelFontSize": {"expr": "datum.value === 'fit2' ? 23 : 26"}, "labelColor": "#000000", "labelLimit": 600,
      "labelExpr": "datum.value === 'Tb' ? 'Tb³⁺ centered emission (545 nm)' : datum.value === 'Eu' ? 'Eu³⁺ centered emission (700 nm)' : datum.value === 'fit1' ? 'Fitting with I=I₀e⁽ᵏᵀᵇ⁻ᵏᴱᵀ⁾*ᵗ' : 'Fitting with I=C₁e⁽⁻ᵏᴱᵘ*ᵗ⁾ - C₂e⁽⁻ᵏᵀᵇ⁻ᵏᴱᵀ⁾*ᵗ'"}}}},
  {"transform": [{"filter": "datum.s === 'fit1' || datum.s === 'fit2'"}],
   "mark": {"type": "line", "strokeWidth": 2, "clip": true}}
]
}
